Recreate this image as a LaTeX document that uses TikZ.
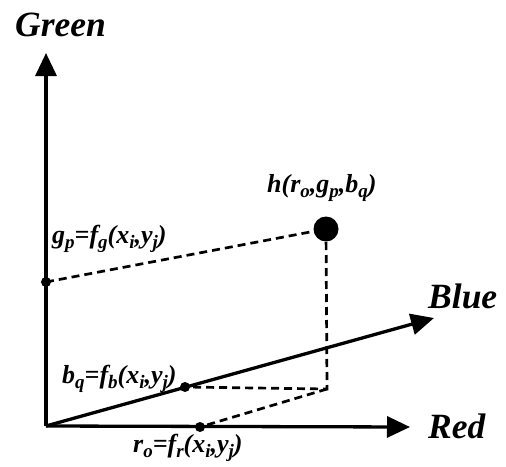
\documentclass[tikz,border=0pt]{standalone}
\usepackage{fontspec}
\setmainfont{Liberation Serif}
\usetikzlibrary{arrows.meta}
\newcommand\sbs[1]{\raisebox{-0.2em}{\fontsize{19}{20}\selectfont #1}}
\tikzset{
  axis/.style={line width=3.3pt, -{Triangle[length=23pt,width=21pt]}},
  proj/.style={line width=2.7pt, dash pattern=on 8pt off 5pt},
  axlabel/.style={font=\fontsize{35.5}{40}\selectfont\bfseries\itshape, inner sep=0pt, anchor=base west},
  fmlabel/.style={font=\fontsize{26}{30}\selectfont\bfseries\itshape, inner sep=0pt, anchor=base west},
  smalldot/.style={circle, fill=black, inner sep=0pt, minimum size=10pt},
  bigdot/.style={circle, fill=black, inner sep=0pt, minimum size=25pt}
}
\begin{document}
\begin{tikzpicture}[x=1pt,y=-1pt]
\useasboundingbox (0,0) rectangle (506,466);
\coordinate (O) at (46,426);
\coordinate (Gt) at (46,53);
\coordinate (Rt) at (410,427);
\coordinate (Bt) at (434,318);
\coordinate (C) at (327,389);
\node[smalldot] (gp) at (46,282) {};
\node[smalldot] (bq) at (185,387) {};
\node[smalldot] (ro) at (200,427) {};
\node[bigdot] (h) at (326,229) {};
% projections
\draw[proj] (gp.center) -- (h.center);
\draw[proj] (h.center) -- (C) -- (bq.center);
\draw[proj] (C) -- (ro.center);
% axes
\draw[axis] (O) -- (Gt);
\draw[axis] (O) -- (Rt);
\draw[axis] (O) -- (Bt);
% labels
\node[axlabel] (lg) at (15,36) {Green};
\node[axlabel] (lb) at (428,308) {Blue};
\node[axlabel] (lr) at (428,438) {Red};
\node[fmlabel] (lh) at (267,192) {h(r\sbs{o},g\sbs{p},b\sbs{q})};
\node[fmlabel] (lgp) at (52,243) {g\sbs{p}=f\sbs{g}(x\sbs{i},y\sbs{j})};
\node[fmlabel] (lbq) at (62,383) {b\sbs{q}=f\sbs{b}(x\sbs{i},y\sbs{j})};
\node[fmlabel] (lro) at (133,452) {r\sbs{o}=f\sbs{r}(x\sbs{i},y\sbs{j})};
\end{tikzpicture}
\end{document}
